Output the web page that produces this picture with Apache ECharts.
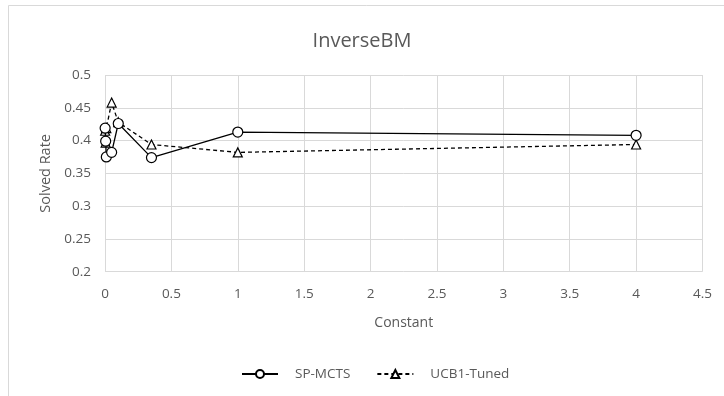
<!DOCTYPE html>
<html>
<head>
<meta charset="utf-8">
<script src="https://cdn.jsdelivr.net/npm/echarts@6/dist/echarts.min.js"></script>
<style>html,body{margin:0;padding:0;background:#fff}#c{width:724px;height:396px}</style>
</head>
<body>
<div id="c"></div>
<script>
var titleText = 'InverseBM';
var xName = 'Constant';
var yName = 'Solved Rate';
var seriesNames = ['SP-MCTS', 'UCB1-Tuned'];
var constants = [0.001, 0.005, 0.01, 0.05, 0.1, 0.35, 1, 4];
var spMcts = [0.419, 0.399, 0.375, 0.382, 0.426, 0.374, 0.413, 0.408];
var ucb1Tuned = [0.415, 0.397, 0.419, 0.458, 0.428, 0.394, 0.382, 0.394];

function pairs(xs, ys) { return xs.map(function (x, i) { return [x, ys[i]]; }); }

var font = '"Open Sans", "Liberation Sans", sans-serif';
var chart = echarts.init(document.getElementById('c'));
chart.setOption({
  animation: false,
  backgroundColor: '#fff',
  graphic: [{
    type: 'rect', shape: { x: 8.5, y: 5.5, width: 800, height: 500 },
    style: { fill: 'none', stroke: '#d9d9d9', lineWidth: 1 }, silent: true, z: -1
  }],
  title: {
    text: titleText, left: 'center', top: 26,
    textStyle: { fontFamily: font, fontSize: 20, fontWeight: 'normal', color: '#595959' }
  },
  grid: { left: 105, right: 21.5, top: 75, bottom: 124.3, containLabel: false },
  xAxis: {
    type: 'value', min: 0, max: 4.5, interval: 0.5,
    name: xName, nameLocation: 'middle', nameGap: 44,
    nameTextStyle: { fontFamily: font, fontSize: 14, color: '#595959' },
    axisLine: { show: false }, axisTick: { show: false },
    axisLabel: { fontFamily: font, fontSize: 13.5, color: '#595959', margin: 15 },
    splitLine: { show: true, lineStyle: { color: '#d9d9d9', width: 1 } }
  },
  yAxis: {
    type: 'value', min: 0.2, max: 0.5, interval: 0.05,
    name: yName, nameLocation: 'middle', nameGap: 52,
    nameTextStyle: { fontFamily: font, fontSize: 14.5, color: '#595959' },
    axisLine: { show: false }, axisTick: { show: false },
    axisLabel: { fontFamily: font, fontSize: 13.5, color: '#595959', margin: 14 },
    splitLine: { show: true, lineStyle: { color: '#d9d9d9', width: 1 } }
  },
  legend: {
    bottom: 10, left: 236, itemWidth: 36, itemHeight: 10, itemGap: 26,
    textStyle: { fontFamily: font, fontSize: 13.5, color: '#595959', padding: [0, 0, 0, 12] },
    data: [seriesNames[0], seriesNames[1]]
  },
  series: [
    {
      name: seriesNames[1], type: 'line', data: pairs(constants, ucb1Tuned),
      symbol: 'triangle', symbolSize: 9, z: 2,
      lineStyle: { color: '#000', width: 1.3, type: [4, 3] },
      itemStyle: { color: '#fff', borderColor: '#000', borderWidth: 1.2 }
    },
    {
      name: seriesNames[0], type: 'line', data: pairs(constants, spMcts),
      symbol: 'circle', symbolSize: 10, z: 3,
      lineStyle: { color: '#000', width: 1.3 },
      itemStyle: { color: '#fff', borderColor: '#000', borderWidth: 1.2 }
    }
  ]
});
</script>
</body>
</html>
